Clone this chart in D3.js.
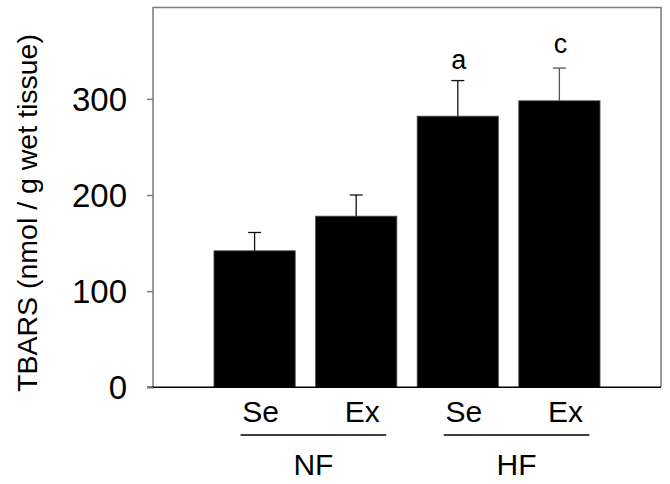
<!DOCTYPE html>
<html>
<head>
<meta charset="utf-8">
<script src="https://cdn.jsdelivr.net/npm/d3@7"></script>
<style>
  body { margin: 0; background: #fff; }
  text { font-family: "Liberation Sans", Arial, sans-serif; fill: #000; }
</style>
</head>
<body>
<div id="chart"></div>
<script>
// values
var treatments = ["Se", "Ex", "Se", "Ex"];
var diets = ["NF", "HF"];
var dietOf = ["NF", "NF", "HF", "HF"];
var means = [142, 178, 282, 298];
var errors = [19, 22, 37, 34];
var letters = ["", "", "a", "c"];
var yTicks = [0, 100, 200, 300];
var yTitle = "TBARS (nmol / g wet tissue)";

var W = 670, H = 484;
var plotL = 153, plotR = 661, plotT = 7.5, plotB = 387.3;

var svg = d3.select("#chart").append("svg")
    .attr("width", W)
    .attr("height", H);

var x = d3.scaleBand()
    .domain(d3.range(means.length))
    .range([plotL, plotR])
    .paddingInner(0.2)
    .paddingOuter(0.6);

var y = d3.scaleLinear()
    .domain([0, 395])
    .range([plotB, plotT]);

// frame: top, left, right in gray
svg.append("path")
    .attr("d", "M" + plotL + "," + plotB + "V" + plotT + "H" + plotR + "V" + plotB)
    .attr("fill", "none")
    .attr("stroke", "#7a7a7a")
    .attr("stroke-width", 1.5);

// bars
svg.selectAll("rect.bar")
    .data(means)
    .enter().append("rect")
    .attr("class", "bar")
    .attr("x", function(d, i){ return x(i); })
    .attr("y", function(d){ return y(d); })
    .attr("width", x.bandwidth())
    .attr("height", function(d){ return y(0) - y(d); })
    .attr("fill", "#000")
    .attr("stroke", "#555")
    .attr("stroke-width", 0.8);

// error bars
var cap = 6.5;
var eb = svg.append("g");
means.forEach(function(m, i){
    var cx = x(i) + x.bandwidth() / 2;
    var col = i === 3 ? "#555" : "#111";
    eb.append("line")
        .attr("x1", cx).attr("x2", cx)
        .attr("y1", y(m)).attr("y2", y(m + errors[i]))
        .attr("stroke", col).attr("stroke-width", 1.3);
    eb.append("line")
        .attr("x1", cx - cap).attr("x2", cx + cap)
        .attr("y1", y(m + errors[i])).attr("y2", y(m + errors[i]))
        .attr("stroke", col).attr("stroke-width", 1.3);
    if (letters[i]) {
        svg.append("text")
            .attr("x", cx + 1)
            .attr("y", y(m + errors[i]) - (i === 3 ? 15 : 12))
            .attr("text-anchor", "middle")
            .attr("font-size", 27)
            .text(letters[i]);
    }
});

// bottom axis line (black, runs past the left axis)
svg.append("line")
    .attr("x1", plotL - 6).attr("x2", plotR)
    .attr("y1", plotB).attr("y2", plotB)
    .attr("stroke", "#000")
    .attr("stroke-width", 1.5);

// y axis ticks and labels
var yAxis = svg.append("g")
    .attr("transform", "translate(" + plotL + ",0)")
    .call(d3.axisLeft(y).tickValues(yTicks).tickSize(6).tickPadding(20));
yAxis.select(".domain").remove();
yAxis.selectAll(".tick line").attr("stroke", "#7a7a7a").attr("stroke-width", 1.5);
yAxis.selectAll(".tick text")
    .attr("font-family", "Liberation Sans, Arial, sans-serif")
    .attr("font-size", 33)
    .attr("fill", "#000")
    .attr("dy", "0.35em");

// y title
svg.append("text")
    .attr("transform", "translate(36.5," + 213 + ") rotate(-90)")
    .attr("text-anchor", "middle")
    .attr("font-size", 28.5)
    .text(yTitle);

// treatment labels
var shift = 6;
svg.selectAll("text.trt")
    .data(treatments)
    .enter().append("text")
    .attr("class", "trt")
    .attr("x", function(d, i){ return x(i) + x.bandwidth() / 2 + shift; })
    .attr("y", 422.3)
    .attr("text-anchor", "middle")
    .attr("font-size", 30)
    .text(function(d){ return d; });

// diet group lines and labels
diets.forEach(function(dg){
    var idx = d3.range(dietOf.length).filter(function(i){ return dietOf[i] === dg; });
    var c0 = x(idx[0]) + x.bandwidth() / 2 + shift;
    var c1 = x(idx[idx.length - 1]) + x.bandwidth() / 2 + shift;
    svg.append("line")
        .attr("x1", c0 - 20).attr("x2", c1 + 24)
        .attr("y1", 435).attr("y2", 435)
        .attr("stroke", "#000").attr("stroke-width", 1.5);
    svg.append("text")
        .attr("x", (c0 + c1) / 2 + 2)
        .attr("y", 475)
        .attr("text-anchor", "middle")
        .attr("font-size", 30)
        .text(dg);
});
</script>
</body>
</html>
